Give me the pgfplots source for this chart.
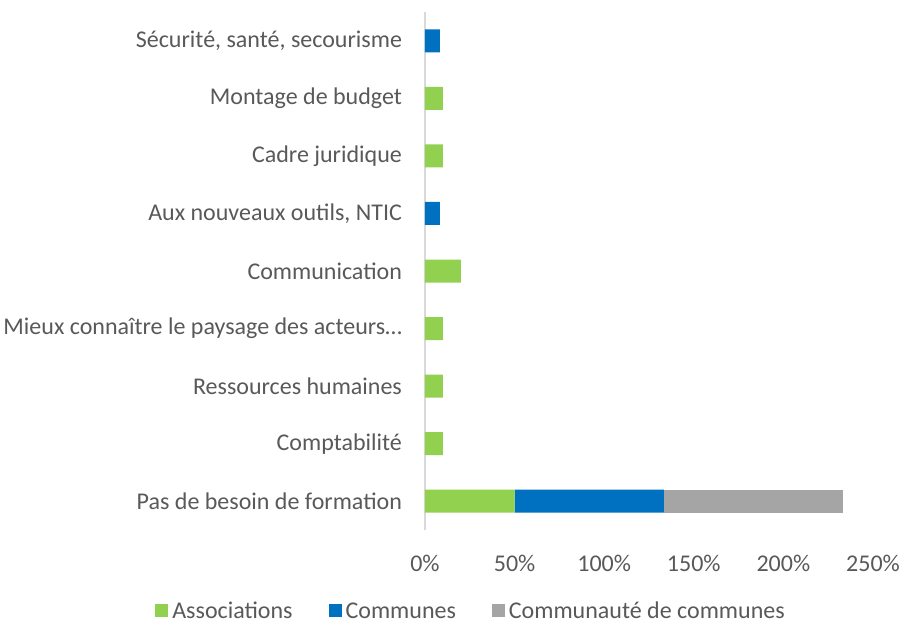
\documentclass[border=0pt]{standalone}
\usepackage{pgfplots}
\pgfplotsset{compat=1.18}
\usepackage{pgfplotstable}
\usepackage{fontspec}
\setmainfont{Carlito}

\definecolor{assoc}{HTML}{92D050}
\definecolor{comm}{HTML}{0070C0}
\definecolor{cc}{HTML}{A5A5A5}
\definecolor{txt}{HTML}{595959}
\definecolor{axisgray}{HTML}{D9D9D9}

% y: 0 = Pas de besoin (bottom) ... 8 = Securite (top)
\pgfplotstableread{
y assoc comm cc
0 50 83.3 100
1 10 0 0
2 10 0 0
3 10 0 0
4 20 0 0
5 0 8.3 0
6 10 0 0
7 10 0 0
8 0 8.3 0
}\formation

\begin{document}
\begin{tikzpicture}
\begin{axis}[
  at={(0,0)}, anchor=south west,
  scale only axis,
  width=224pt, height=259pt,
  xbar stacked,
  bar width=11.5pt,
  xmin=0, xmax=250,
  ymin=-0.5, ymax=8.5,
  xtick={0,50,...,250},
  xticklabel={\pgfmathprintnumber{\tick}\%},
  ytick={0,...,8},
  yticklabels={Pas de besoin de formation, Comptabilité, Ressources humaines,
    Mieux connaître le paysage des acteurs…, Communication,
    {Aux nouveaux outils, NTIC}, Cadre juridique, Montage de budget,
    {Sécurité, santé, secourisme}},
  /pgf/number format/assume math mode=true,
  major tick length=0pt,
  axis x line*=bottom, x axis line style={draw=none},
  axis y line*=left, y axis line style={draw=axisgray, line width=0.8pt},
  tick label style={font=\fontsize{12}{14}\selectfont, text=txt},
  x tick label style={yshift=-9pt},
  y tick label style={xshift=-8pt},
  legend style={at={(0.105,-0.158)}, anchor=center, draw=none,
    inner sep=1pt, font=\fontsize{12}{14}\selectfont, text=txt,
    legend columns=3, /tikz/every even column/.append style={column sep=16pt}},
  legend image code/.code={\fill[#1] (0pt,-2.6pt) rectangle (6.5pt,3.9pt);},
]
\addplot[fill=assoc, draw=none] table[x=assoc, y=y] {\formation};
\addplot[fill=comm, draw=none] table[x=comm, y=y] {\formation};
\addplot[fill=cc, draw=none] table[x=cc, y=y] {\formation};
\legend{Associations, Communes, Communauté de communes}
\end{axis}
\pgfresetboundingbox
\path (-212.5pt,-48pt) rectangle (238.5pt,265pt);
\end{tikzpicture}
\end{document}
